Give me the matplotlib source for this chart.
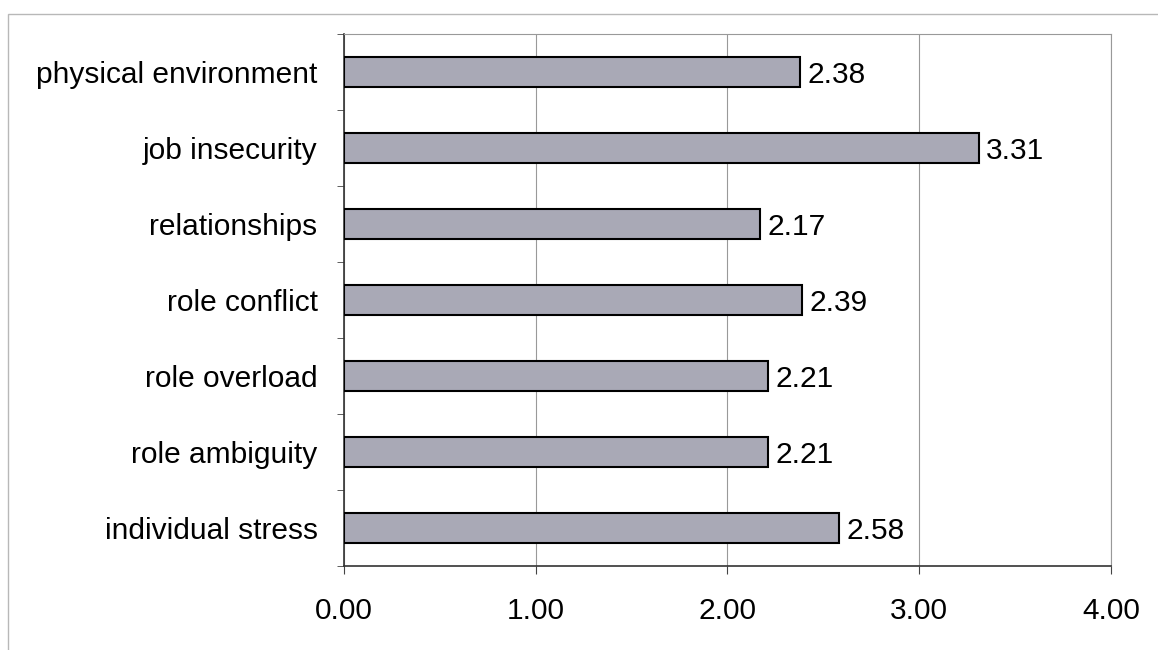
import matplotlib

matplotlib.use("Agg")
import matplotlib.pyplot as plt
from matplotlib.patches import Rectangle
from matplotlib.ticker import FixedLocator

plt.rcParams["font.family"] = ["Liberation Sans", "DejaVu Sans"]

categories = ["physical environment", "job insecurity", "relationships",
              "role conflict", "role overload", "role ambiguity",
              "individual stress"]
values = [2.38, 3.31, 2.17, 2.39, 2.21, 2.21, 2.58]
x_ticks = [0.0, 1.0, 2.0, 3.0, 4.0]

FS = 21.5

fig = plt.figure(figsize=(11.58, 6.5), dpi=100)
ax = fig.add_axes([0.297, 0.1292, 0.6624, 0.8185])

# outer chart-area border
fig.patches.append(Rectangle((8 / 1158, -0.01), 1.2, 1 - 14 / 650 + 0.01,
                             transform=fig.transFigure, fill=False,
                             edgecolor="#b8b8b8", lw=1.0))

ypos = list(range(len(categories)))[::-1]
ax.barh(ypos, values, height=0.4, color="#a9a9b6", edgecolor="black",
        lw=1.5, zorder=3)
for y, v in zip(ypos, values):
    ax.text(v + 0.04, y, f"{v:.2f}", va="center_baseline", ha="left",
            fontsize=FS)

ax.set_xlim(0, 4)
ax.set_ylim(-0.5, len(categories) - 0.5)
ax.set_xticks(x_ticks)
ax.set_xticklabels([f"{t:.2f}" for t in x_ticks], fontsize=FS)
ax.set_yticks(ypos)
ax.set_yticklabels(categories, fontsize=FS)
ax.yaxis.set_minor_locator(FixedLocator([i - 0.5 for i in range(len(categories) + 1)]))
ax.tick_params(axis="y", which="major", length=0, pad=19)
ax.tick_params(axis="y", which="minor", length=5, direction="out", color="#444444")
ax.tick_params(axis="x", length=6, direction="out", pad=16, color="#444444")

ax.grid(axis="x", color="#999999", lw=0.8, zorder=0)
for s in ("top", "right"):
    ax.spines[s].set_color("#999999")
    ax.spines[s].set_linewidth(0.8)
for s in ("left", "bottom"):
    ax.spines[s].set_color("#333333")
    ax.spines[s].set_linewidth(1.2)

fig.savefig("out.png", dpi=100)
